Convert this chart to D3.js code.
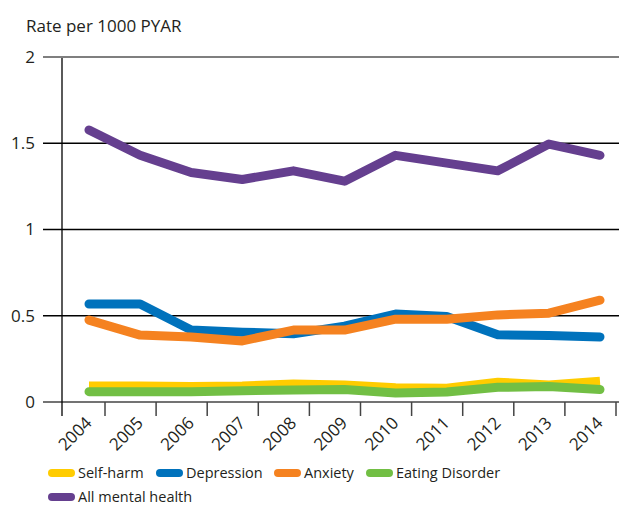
<!DOCTYPE html>
<html>
<head>
<meta charset="utf-8">
<script src="https://cdn.jsdelivr.net/npm/d3@7"></script>
<style>
  html, body { margin: 0; padding: 0; background: #fff; }
  svg { display: block; font-family: 'Open Sans', sans-serif; }
</style>
</head>
<body>
<div id="chart"></div>
<script>
// Data
const years = [2004, 2005, 2006, 2007, 2008, 2009, 2010, 2011, 2012, 2013, 2014];
const selfHarm = [0.093, 0.093, 0.09, 0.093, 0.104, 0.098, 0.082, 0.08, 0.115, 0.098, 0.12];
const depression = [0.568, 0.568, 0.417, 0.405, 0.395, 0.44, 0.51, 0.495, 0.39, 0.385, 0.377];
const anxiety = [0.475, 0.388, 0.377, 0.354, 0.417, 0.417, 0.48, 0.48, 0.505, 0.515, 0.59];
const eatingDisorder = [0.06, 0.06, 0.06, 0.065, 0.07, 0.072, 0.052, 0.058, 0.085, 0.09, 0.072];
const allMental = [1.577, 1.43, 1.33, 1.29, 1.34, 1.28, 1.43, 1.385, 1.34, 1.495, 1.43];
const yTicks = [0, 0.5, 1, 1.5, 2];

const series = [
    { name: 'Self-harm', values: selfHarm, color: '#ffcc00', cap: 'butt' },
    { name: 'Depression', values: depression, color: '#0072bc', cap: 'round' },
    { name: 'Anxiety', values: anxiety, color: '#f58220', cap: 'round' },
    { name: 'Eating Disorder', values: eatingDisorder, color: '#72bf44', cap: 'round' },
    { name: 'All mental health', values: allMental, color: '#653f8f', cap: 'round' }
];

const width = 619, height = 506;
const textColor = '#231f20';

const svg = d3.select('#chart')
    .append('svg')
    .attr('width', width)
    .attr('height', height);

// Scales
const x = d3.scaleLinear().domain([2004, 2014]).range([89, 600]);
const y = d3.scaleLinear().domain([0, 2]).range([402, 57]);
const axisX = 62;

// Title
svg.append('text')
    .attr('x', 26)
    .attr('y', 32)
    .style('font-size', '17px')
    .style('fill', textColor)
    .text('Rate per 1000 PYAR');

// Horizontal gridlines
svg.selectAll('.grid')
    .data(yTicks)
    .enter()
    .append('line')
    .attr('class', 'grid')
    .attr('x1', 43)
    .attr('x2', width)
    .attr('y1', d => y(d))
    .attr('y2', d => y(d))
    .style('stroke', d => d === 2 ? '#7f7f7f' : (d === 0 ? '#444' : '#000'))
    .style('stroke-width', d => d === 2 ? 2 : (d === 0 ? 1.6 : 1.3));

// Y tick labels
svg.selectAll('.ylab')
    .data(yTicks)
    .enter()
    .append('text')
    .attr('class', 'ylab')
    .attr('x', 35)
    .attr('y', d => y(d))
    .attr('dy', '0.35em')
    .attr('text-anchor', 'end')
    .style('font-size', '17px')
    .style('fill', textColor)
    .text(d => d);

// Y axis line
svg.append('line')
    .attr('x1', axisX).attr('x2', axisX)
    .attr('y1', 58).attr('y2', 416)
    .style('stroke', '#000')
    .style('stroke-width', 1.3);

// X tick marks (sit between the points)
svg.selectAll('.xtick')
    .data(years)
    .enter()
    .append('line')
    .attr('class', 'xtick')
    .attr('x1', d => x(d) + 16)
    .attr('x2', d => x(d) + 16)
    .attr('y1', y(0))
    .attr('y2', 416)
    .style('stroke', '#444')
    .style('stroke-width', 1.5);

// X tick labels, rotated
svg.selectAll('.xlab')
    .data(years)
    .enter()
    .append('text')
    .attr('class', 'xlab')
    .attr('text-anchor', 'end')
    .attr('transform', d => `translate(${x(d) + 4},${424}) rotate(-45)`)
    .style('font-size', '17px')
    .style('fill', textColor)
    .text(d => d);

// Lines
const line = d3.line()
    .x((d, i) => x(years[i]))
    .y(d => y(d));

svg.selectAll('.series')
    .data(series)
    .enter()
    .append('path')
    .attr('class', 'series')
    .attr('d', d => line(d.values))
    .attr('fill', 'none')
    .attr('stroke', d => d.color)
    .attr('stroke-width', 9)
    .attr('stroke-linecap', d => d.cap)
    .attr('stroke-linejoin', 'round');

// Legend
const legendPos = [
    { x: 48, y: 473 },
    { x: 156, y: 473 },
    { x: 274, y: 473 },
    { x: 366, y: 473 },
    { x: 48, y: 497 }
];

const legend = svg.selectAll('.legend')
    .data(series)
    .enter()
    .append('g')
    .attr('class', 'legend')
    .attr('transform', (d, i) => `translate(${legendPos[i].x},${legendPos[i].y})`);

legend.append('rect')
    .attr('x', 0)
    .attr('y', -4)
    .attr('width', 27)
    .attr('height', 8)
    .attr('rx', 4)
    .style('fill', d => d.color);

legend.append('text')
    .attr('x', 30)
    .attr('dy', '0.35em')
    .style('font-size', '14.5px')
    .style('fill', textColor)
    .text(d => d.name);
</script>
</body>
</html>
